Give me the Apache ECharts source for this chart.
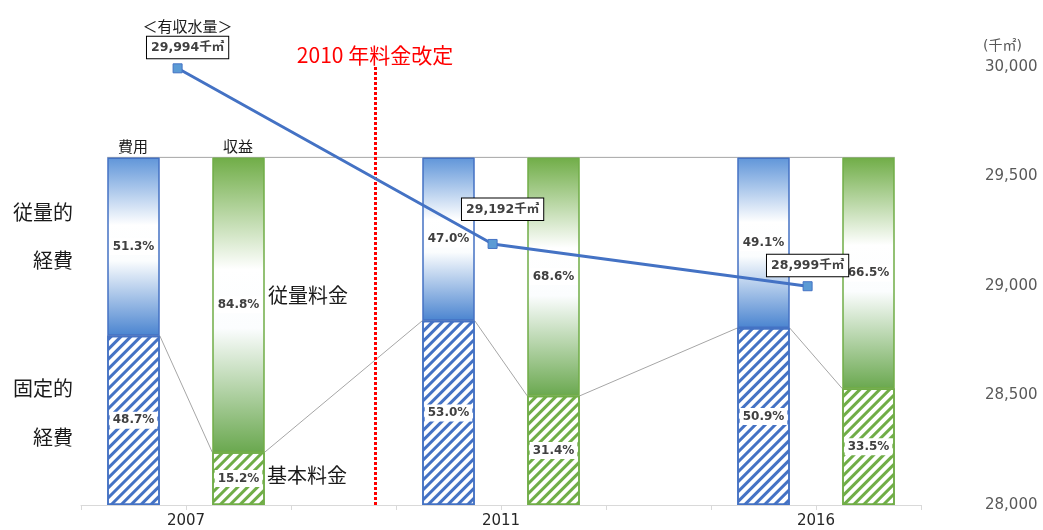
<!DOCTYPE html>
<html>
<head>
<meta charset="utf-8">
<style>
  html, body { margin: 0; padding: 0; background: #fff; }
  #chart { width: 1043px; height: 530px; }
</style>
<script src="https://cdn.jsdelivr.net/npm/echarts@6/dist/echarts.min.js"></script>
</head>
<body>
<div id="chart"></div>
<script>
// データ（費用・収益の構成比 %、有収水量 千㎡）
const years = ['2007', '2011', '2016']
const fixedCost = [48.7, 53.0, 50.9]      // 固定的経費
const variableCost = [51.3, 47.0, 49.1]   // 従量的経費
const basicCharge = [15.2, 31.4, 33.5]    // 基本料金
const volumeCharge = [84.8, 68.6, 66.5]   // 従量料金
const waterVolume = [29994, 29192, 28999] // 有収水量
const volumeTicks = [28000, 28500, 29000, 29500, 30000]
const revisionLabel = '2010 年料金改定'

const FONT = "'DejaVu Sans', 'Noto Sans CJK JP', sans-serif"
const JP = "'Noto Sans CJK JP', sans-serif"
const slotsPerYear = 3          // 費用, 収益, 空き
const nSlots = years.length * slotsPerYear - 1
const barFrac = 0.5             // 棒の幅（カテゴリ幅に対する割合）
const pointShift = -0.08        // 水量の点は年の境目より少し左
const revisionPos = 2.8         // 料金改定線の位置（スロット単位）

const categories = []
for (let i = 0; i < nSlots; i++) {
  const y = years[Math.floor(i / slotsPerYear)]
  const k = i % slotsPerYear
  categories.push(k === 0 ? y + '費用' : k === 1 ? y + '収益' : 'gap' + i)
}

// 年ごとの値を8スロットに並べる
function slots(values, offset) {
  const out = new Array(nSlots).fill('-')
  values.forEach((v, i) => { out[i * slotsPerYear + offset] = v })
  return out
}

// 区分線（棒の端どうしをつなぐ灰色の線）
function edgePoints(costLevels, revLevels) {
  const pts = []
  years.forEach((y, i) => {
    [[i * slotsPerYear, costLevels[i]], [i * slotsPerYear + 1, revLevels[i]]].forEach(([s, v]) => {
      const c = s + 0.5
      pts.push([c - barFrac / 2, v], [c + barFrac / 2, v])
    })
  })
  return pts
}

const costTotal = fixedCost.map((v, i) => v + variableCost[i])
const revTotal = basicCharge.map((v, i) => v + volumeCharge[i])

const blue = '#4472c4'
const green = '#70ad47'

function hatch(color) {
  return {
    color: '#ffffff',
    borderColor: color,
    borderWidth: 1.5,
    decal: {
      symbol: 'rect',
      symbolSize: 1,
      dashArrayX: [1, 0],
      dashArrayY: [3, 4],
      rotation: -Math.PI / 4,
      color: color
    }
  }
}

function fade(top, bottom, border) {
  return {
    color: {
      type: 'linear', x: 0, y: 0, x2: 0, y2: 1,
      colorStops: [
        { offset: 0, color: top },
        { offset: 0.38, color: '#ffffff' },
        { offset: 0.58, color: '#fbfdfe' },
        { offset: 1, color: bottom }
      ]
    },
    borderColor: border,
    borderWidth: 1.5
  }
}

const pctLabel = {
  show: true,
  position: 'inside',
  formatter: p => p.value.toFixed(1) + '%',
  color: '#404040',
  fontWeight: 'bold',
  fontSize: 12,
  fontFamily: FONT,
  backgroundColor: '#ffffff',
  padding: [3, 3, 2, 3]
}

function barSeries(name, values, offset, style) {
  return {
    name: name,
    type: 'bar',
    stack: 'all',
    xAxisIndex: 0,
    yAxisIndex: 0,
    barWidth: (barFrac * 100) + '%',
    data: slots(values, offset),
    itemStyle: style,
    label: pctLabel,
    z: 2
  }
}

const chart = echarts.init(document.getElementById('chart'))

const option = {
  animation: false,
  aria: { enabled: true, decal: { show: false } },
  grid: { left: 81, right: 122, top: 67, bottom: 25 },
  xAxis: [
    {
      type: 'category',
      data: categories,
      show: false
    },
    {
      type: 'value',
      position: 'bottom',
      min: 0,
      max: nSlots,
      interval: 1,
      axisLine: { show: true, lineStyle: { color: '#d9d9d9' } },
      axisTick: { show: true, length: 5, lineStyle: { color: '#d9d9d9' } },
      splitLine: { show: false },
      axisLabel: {
        customValues: years.map((y, i) => i * slotsPerYear + 1),
        formatter: v => years[Math.round((v - 1) / slotsPerYear)],
        color: '#262626',
        fontSize: 15,
        fontFamily: FONT,
        margin: 9
      }
    }
  ],
  yAxis: [
    {
      type: 'value',
      min: 0,
      max: 126,
      show: false
    },
    {
      type: 'value',
      position: 'right',
      min: volumeTicks[0],
      max: volumeTicks[volumeTicks.length - 1],
      interval: volumeTicks[1] - volumeTicks[0],
      name: '(千㎡)',
      nameGap: 14,
      nameTextStyle: {
        align: 'left',
        padding: [0, 0, 0, 62],
        color: '#595959',
        fontSize: 14,
        fontFamily: FONT
      },
      axisLine: { show: false },
      axisTick: { show: false },
      splitLine: { show: false },
      axisLabel: {
        formatter: v => v.toLocaleString('en-US'),
        color: '#595959',
        fontSize: 15,
        fontFamily: FONT,
        margin: 64
      }
    }
  ],
  series: [
    barSeries('固定的経費', fixedCost, 0, hatch(blue)),
    barSeries('基本料金', basicCharge, 1, hatch(green)),
    barSeries('従量的経費', variableCost, 0, fade('#5f95d9', '#4a84d0', blue)),
    barSeries('従量料金', volumeCharge, 1, fade('#70ad47', '#6aa84f', green)),
    {
      name: '区分線',
      type: 'line',
      xAxisIndex: 1,
      yAxisIndex: 0,
      data: edgePoints(fixedCost, basicCharge),
      symbol: 'none',
      silent: true,
      lineStyle: { color: '#a6a6a6', width: 1 },
      z: 1
    },
    {
      name: '上端線',
      type: 'line',
      xAxisIndex: 1,
      yAxisIndex: 0,
      data: edgePoints(costTotal, revTotal),
      symbol: 'none',
      silent: true,
      lineStyle: { color: '#a6a6a6', width: 1 },
      z: 1
    },
    {
      name: '有収水量',
      type: 'line',
      xAxisIndex: 1,
      yAxisIndex: 1,
      data: waterVolume.map((v, i) => ({
        value: [i * slotsPerYear + 1 + pointShift, v],
        label: { distance: i === 1 ? 19 : 5, offset: [i < 2 ? 10 : 0, 0] }
      })),
      symbol: 'rect',
      symbolSize: 9,
      itemStyle: { color: '#5b9bd5', borderColor: blue, borderWidth: 1 },
      lineStyle: { color: blue, width: 3 },
      z: 5,
      label: {
        show: true,
        position: 'top',
        formatter: p => {
          const box = '{b|' + p.value[1].toLocaleString('en-US') + '千㎡}'
          return p.dataIndex === 0 ? '{t|＜有収水量＞}\n' + box : box
        },
        rich: {
          t: { fontSize: 15, fontFamily: JP, color: '#1a1a1a', lineHeight: 22 },
          b: {
            fontSize: 12.5,
            fontWeight: 'bold',
            fontFamily: FONT,
            color: '#404040',
            backgroundColor: '#ffffff',
            borderColor: '#000000',
            borderWidth: 1,
            padding: [5, 4, 4, 4]
          }
        }
      },
      markLine: {
        silent: true,
        symbol: ['none', 'none'],
        lineStyle: { color: '#ff0000', type: [3, 2], width: 3 },
        label: {
          show: true,
          position: 'end',
          formatter: revisionLabel,
          color: '#ff0000',
          fontSize: 21,
          fontFamily: JP,
          distance: 1
        },
        data: [{ xAxis: revisionPos }]
      }
    }
  ],
  graphic: [
    { type: 'text', style: { text: '従量的', x: 73, y: 212, align: 'right', verticalAlign: 'middle', fontSize: 20, fontFamily: JP, fill: '#1a1a1a' } },
    { type: 'text', style: { text: '経費', x: 73, y: 260, align: 'right', verticalAlign: 'middle', fontSize: 20, fontFamily: JP, fill: '#1a1a1a' } },
    { type: 'text', style: { text: '固定的', x: 73, y: 388, align: 'right', verticalAlign: 'middle', fontSize: 20, fontFamily: JP, fill: '#1a1a1a' } },
    { type: 'text', style: { text: '経費', x: 73, y: 437, align: 'right', verticalAlign: 'middle', fontSize: 20, fontFamily: JP, fill: '#1a1a1a' } },
    { type: 'text', style: { text: '従量料金', x: 268, y: 295, align: 'left', verticalAlign: 'middle', fontSize: 20, fontFamily: JP, fill: '#1a1a1a' } },
    { type: 'text', style: { text: '基本料金', x: 267, y: 475, align: 'left', verticalAlign: 'middle', fontSize: 20, fontFamily: JP, fill: '#1a1a1a' } },
    { type: 'text', style: { text: '費用', x: 133, y: 146, align: 'center', verticalAlign: 'middle', fontSize: 15, fontFamily: JP, fill: '#1a1a1a' } },
    { type: 'text', style: { text: '収益', x: 238, y: 146, align: 'center', verticalAlign: 'middle', fontSize: 15, fontFamily: JP, fill: '#1a1a1a' } }
  ]
}

chart.setOption(option, true)
</script>
</body>
</html>
